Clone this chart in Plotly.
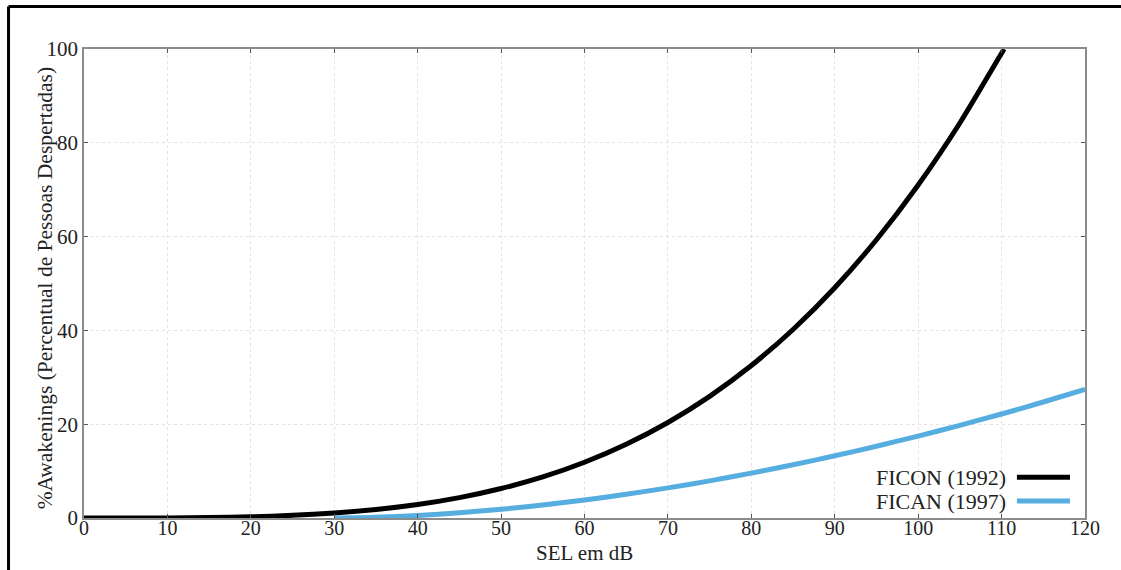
import plotly.graph_objects as go

# Sound exposure level (dB) and percentage of people awakened
sel_ficon = [0, 5, 10, 15, 20, 25, 30, 35, 40, 45, 50, 55, 60, 65, 70, 75, 80, 85, 90, 95, 100, 105, 110, 110.3]
awk_ficon = [0, 0.002, 0.022, 0.093, 0.25, 0.56, 1.05, 1.80, 2.87, 4.34, 6.28, 8.76, 11.88, 15.72,
             20.37, 25.94, 32.51, 40.20, 49.10, 59.33, 71.0, 84.22, 99.1, 100]

sel_fican = [30, 35, 40, 45, 50, 55, 60, 65, 70, 75, 80, 85, 90, 95, 100, 105, 110, 115, 120]
awk_fican = [0, 0.155, 0.54, 1.11, 1.86, 2.77, 3.83, 5.05, 6.42, 7.92, 9.57, 11.35, 13.26, 15.30,
             17.47, 19.76, 22.18, 24.73, 27.41]

x_ticks = [0, 10, 20, 30, 40, 50, 60, 70, 80, 90, 100, 110, 120]
y_ticks = [0, 20, 40, 60, 80, 100]

series = [
    ("FICON (1992)", sel_ficon, awk_ficon, "#000000"),
    ("FICAN (1997)", sel_fican, awk_fican, "#55ADE0"),
]

SERIF = "Liberation Serif, Times New Roman, serif"
TEXT = "#222222"

fig = go.Figure()
for name, xs, ys, color in series:
    fig.add_trace(go.Scatter(x=xs, y=ys, mode="lines", name=name,
                             line=dict(color=color, width=5, shape="spline", smoothing=0.6),
                             showlegend=False))

# Legend drawn with text on the left and line sample on the right
legend_rows = [0.087, 0.036]
for (name, _, _, color), ly in zip(series, legend_rows):
    fig.add_annotation(x=0.923, y=ly, xref="paper", yref="paper", text=name,
                       showarrow=False, xanchor="right", yanchor="middle",
                       font=dict(family=SERIF, size=22, color=TEXT))
    fig.add_shape(type="line", xref="paper", yref="paper", x0=0.932, x1=0.985, y0=ly, y1=ly,
                  line=dict(color=color, width=5))

# Axis titles
fig.add_annotation(x=0.5, y=-0.075, xref="paper", yref="paper", text="SEL em dB",
                   showarrow=False, xanchor="center", yanchor="middle",
                   font=dict(family=SERIF, size=21, color=TEXT))
fig.add_annotation(x=-0.039, y=0.49, xref="paper", yref="paper",
                   text="%Awakenings (Percentual de Pessoas Despertadas)", textangle=-90,
                   showarrow=False, xanchor="center", yanchor="middle",
                   font=dict(family=SERIF, size=21.5, color=TEXT))

# Outer frame (top and left edges)
fig.add_shape(type="line", xref="paper", yref="paper", x0=-0.0754, x1=1.036, y0=1.0906, y1=1.0906,
              line=dict(color="#000000", width=3), layer="above")
fig.add_shape(type="line", xref="paper", yref="paper", x0=-0.0754, x1=-0.0754, y0=-0.111, y1=1.0906,
              line=dict(color="#000000", width=3), layer="above")

axis_common = dict(
    showline=True, linecolor="#8c8c8c", linewidth=1.5, mirror="ticks",
    ticks="inside", ticklen=4, tickcolor="#555555",
    showgrid=True, gridcolor="#e2e2e2", griddash="dot", gridwidth=1,
    zeroline=False,
)

fig.update_layout(
    width=1121, height=570,
    margin=dict(l=84, r=36, t=49, b=52),
    paper_bgcolor="#ffffff", plot_bgcolor="#ffffff",
    xaxis=dict(range=[0, 120], tickvals=x_ticks, ticklabelstandoff=-9,
               tickfont=dict(family=SERIF, size=20, color=TEXT), **axis_common),
    yaxis=dict(range=[0, 100], tickvals=y_ticks,
               tickfont=dict(family=SERIF, size=21, color=TEXT), **axis_common),
)

fig.write_html("out.html")
